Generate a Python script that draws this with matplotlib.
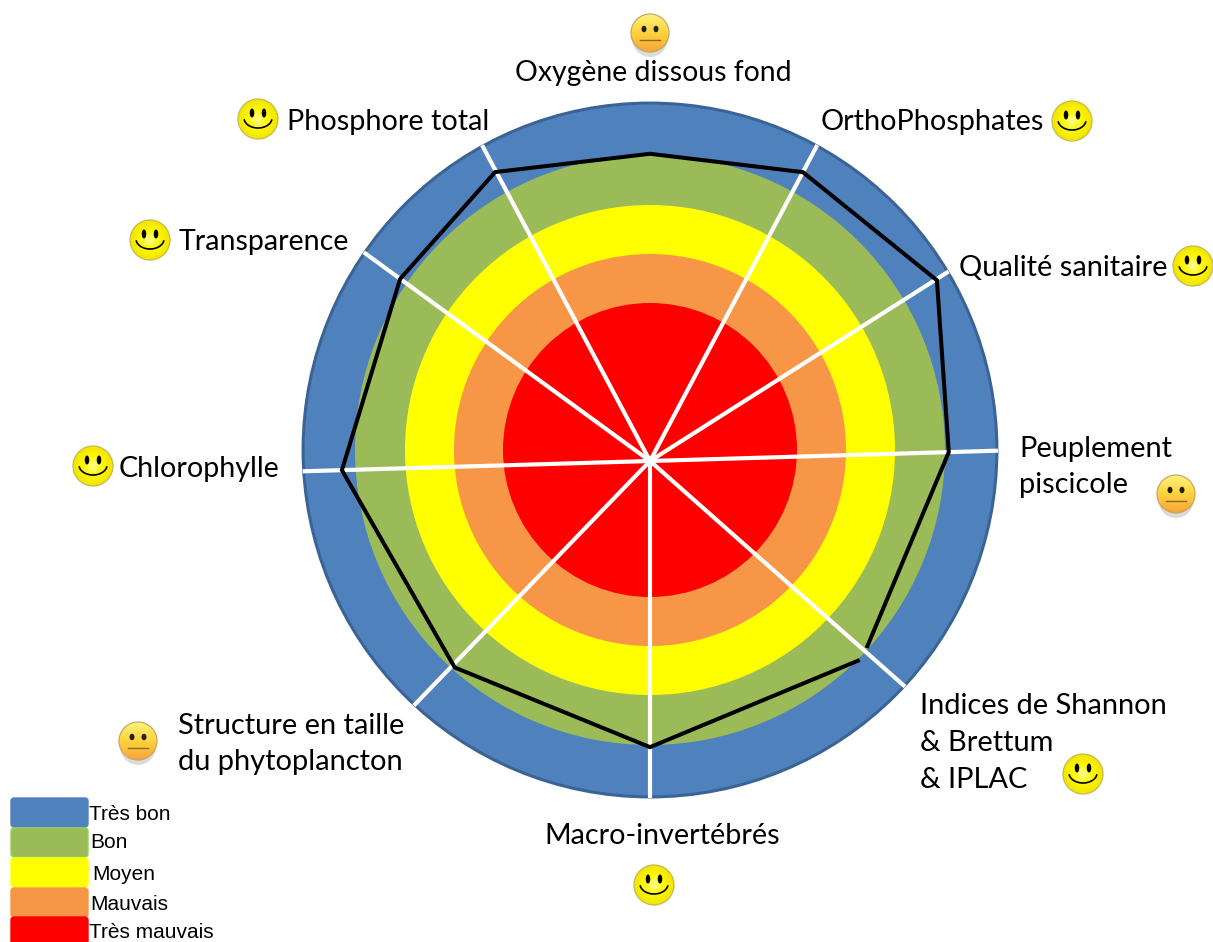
import numpy as np
import matplotlib
matplotlib.use("Agg")
import matplotlib.pyplot as plt
from matplotlib.patches import Circle, Ellipse, FancyBboxPatch
from matplotlib.colors import LinearSegmentedColormap

# classes, from the outside ring to the centre
classes = ["Très bon", "Bon", "Moyen", "Mauvais", "Très mauvais"]
class_colors = ["#4F81BD", "#9BBB59", "#FFFF00", "#F79646", "#FF0000"]
ring_limits = [7.08, 6.02, 5.0, 4.0, 3.0]

# score line, one value per indicator (Indices de Shannon appears at both ends, line is broken there)
line_names = ["Indices", "Peuplement piscicole", "Qualité sanitaire", "OrthoPhosphates",
              "Oxygène dissous fond", "Phosphore total", "Transparence", "Chlorophylle",
              "Structure en taille", "Macro-invertébrés", "Indices"]
line_angles = [-40.8, 1.7, 32.2, 62.1, 90, 118.2, 143.9, 181.7, 226.6, 270, 316.5]
line_values = [5.84, 6.10, 6.92, 6.67, 6.27, 6.69, 6.31, 6.29, 5.80, 5.84, 5.90]

spoke_angles = [62.1, 32.4, 1.7, -41.5, -90, -134.0, 181.7, 143.9, 118.0]

# label text and smiley for each indicator
label_texts = ["Oxygène dissous fond", "Phosphore total", "OrthoPhosphates", "Transparence",
               "Qualité sanitaire", "Chlorophylle", "Peuplement\npiscicole",
               "Indices de Shannon\n& Brettum\n& IPLAC", "Structure en taille\ndu phytoplancton",
               "Macro-invertébrés"]
label_x = [515, 287, 821, 179, 959, 119, 1019, 920, 178, 544]
label_y = [73, 122, 122, 242, 268, 469, 467, 743, 744, 836]
label_size = [20.4, 20.8, 20.8, 20.6, 20.9, 20.6, 20.9, 20.9, 20.9, 20.7]
smiley_x = [650, 258, 1072, 150, 1193, 93, 1176, 1083, 138, 654]
smiley_y = [33, 119, 121, 240, 266, 466, 494, 774, 741, 885]
smiley_mood = ["neutre", "bon", "bon", "bon", "bon", "bon", "neutre", "bon", "neutre", "bon"]

legend_y = [798, 828, 858, 888, 917]
legend_text_x = [89, 90, 92, 90, 89]
legend_text_y = [814, 843, 874, 904, 933]

cx, cy = 650, 450   # centre of the rings
hx, hy = 650, 461   # where the spokes meet
unit = 49

fig = plt.figure(figsize=(12.13, 9.42), dpi=100)
ax = fig.add_axes([0, 0, 1, 1])
ax.axis("off")

# rings
for i in range(len(classes)):
    edge = "#3A6496" if i == 0 else "none"
    ax.add_patch(Circle((cx, cy), ring_limits[i] * unit, facecolor=class_colors[i],
                        edgecolor=edge, linewidth=2.2, zorder=i + 1))

# spokes stop at the outer circle
R = ring_limits[0] * unit + 1
for a in spoke_angles:
    dx, dy = np.cos(np.radians(a)), -np.sin(np.radians(a))
    b = dx * (hx - cx) + dy * (hy - cy)
    c = (hx - cx) ** 2 + (hy - cy) ** 2 - R ** 2
    length = -b + np.sqrt(b * b - c)
    ax.plot([hx, hx + length * dx], [hy, hy + length * dy], color="white", lw=3.0,
            solid_capstyle="butt", zorder=10)

xs = [hx + v * unit * np.cos(np.radians(a)) for a, v in zip(line_angles, line_values)]
ys = [hy - v * unit * np.sin(np.radians(a)) for a, v in zip(line_angles, line_values)]
ax.plot(xs, ys, color="black", lw=2.9, solid_joinstyle="miter", solid_capstyle="butt", zorder=11)

# labels
for t, x, y, s in zip(label_texts, label_x, label_y, label_size):
    ax.text(x, y, t, family="Lato", fontsize=s, color="black", ha="left", va="center",
            linespacing=1.5, zorder=12)

neutral_cmap = LinearSegmentedColormap.from_list("neutre", ["#FFF27A", "#FFD23C", "#F7A43A"])
happy_cmap = LinearSegmentedColormap.from_list("bon", ["#FFFF8C", "#FFF700", "#F2E400"])


def draw_smiley(x, y, mood):
    if mood == "neutre":
        r = 19
        ax.add_patch(Ellipse((x, y + 5), 2 * r - 2, 2 * r, facecolor="#888888", alpha=0.3,
                             edgecolor="none", zorder=12))
        grad = np.linspace(0, 1, 64).reshape(-1, 1)
        cmap = neutral_cmap
        edge = "#C8A860"
    else:
        r = 20
        u, v = np.meshgrid(np.linspace(-1, 1, 64), np.linspace(-1, 1, 64))
        grad = np.clip(np.hypot(u, v), 0, 1)
        cmap = happy_cmap
        edge = "#C4BC50"
    disc = Circle((x, y), r, facecolor="none", edgecolor=edge, linewidth=0.9, zorder=14)
    ax.add_patch(disc)
    im = ax.imshow(grad, cmap=cmap, extent=(x - r, x + r, y + r, y - r), aspect="auto",
                   interpolation="bilinear", zorder=13)
    im.set_clip_path(disc)
    if mood == "neutre":
        for sx in (-6, 6):
            ax.add_patch(Ellipse((x + sx, y - 4), 5, 6.5, facecolor="#222222", edgecolor="none", zorder=15))
        ax.plot([x - 10, x + 10], [y + 7, y + 7], color="#8A6A20", lw=1, zorder=15)
    else:
        for sx in (-6, 6):
            ax.add_patch(Ellipse((x + sx, y - 6), 4.5, 9, facecolor="black", edgecolor="none", zorder=15))
        th = np.linspace(np.radians(12), np.radians(168), 30)
        ax.plot(x + 14 * np.cos(th), y - 1 + 10 * np.sin(th), color="black", lw=1.2, zorder=15)


for x, y, m in zip(smiley_x, smiley_y, smiley_mood):
    draw_smiley(x, y, m)

# legend
for i in range(len(classes)):
    edge = "#92D050" if classes[i] == "Bon" else class_colors[i]
    ax.add_patch(FancyBboxPatch((12, legend_y[i] + 1), 75, 27, boxstyle="round,pad=1,rounding_size=3",
                                facecolor=class_colors[i], edgecolor=edge, linewidth=1, zorder=5 + i))
    ax.text(legend_text_x[i], legend_text_y[i], classes[i], family="Liberation Sans", fontsize=15,
            color="black", ha="left", va="center", zorder=20)

ax.set_xlim(0, 1213)
ax.set_ylim(942, 0)
fig.savefig("out.png", dpi=100)
